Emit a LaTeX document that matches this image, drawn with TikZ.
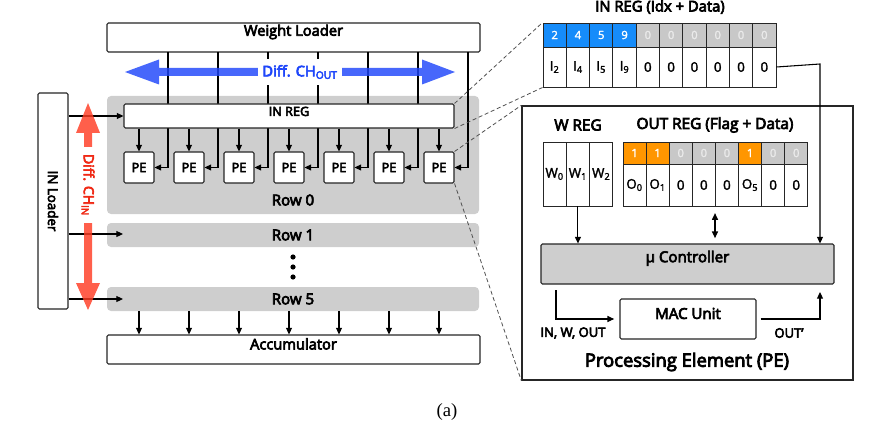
\documentclass[tikz,border=0pt]{standalone}
\usepackage{fontspec}
\setmainfont{Open Sans}[RawFeature={embolden=4.5}]
\newfontfamily\cellfont{Open Sans}[RawFeature={embolden=2}]
\newfontfamily\capfont{Liberation Serif}
\usetikzlibrary{fit,arrows.meta,calc}
\definecolor{rowgray}{RGB}{206,206,206}
\definecolor{cellgray}{RGB}{200,200,200}
\definecolor{zerogray}{RGB}{235,235,235}
\definecolor{idxblue}{RGB}{22,140,250}
\definecolor{flagorange}{RGB}{255,150,0}
\definecolor{outblue}{RGB}{30,70,250}
\definecolor{inred}{RGB}{255,60,35}
\definecolor{redtext}{RGB}{240,40,20}
\definecolor{dashgray}{RGB}{80,80,80}
\newcommand{\sbx}[1]{\textsubscript{#1}}
\newcommand{\fs}[1]{\fontsize{#1}{#1}\selectfont}
\begin{document}
\begin{tikzpicture}[x=0.75pt,y=-0.75pt,
  font=\fs{10},
  box/.style={draw=black!85, line width=0.8pt, fill=white, inner sep=0pt, rounded corners=1pt},
  rowbox/.style={fill=rowgray, draw=none, inner sep=0pt, rounded corners=3pt},
  cell/.style={draw=black!85, line width=0.7pt, inner sep=0pt, font=\cellfont\fs{10}},
  flagcell/.style={draw=black!85, line width=0.7pt, inner sep=0pt, font=\cellfont\fs{8.5}},
  arr/.style={-{Triangle[length=5pt,width=4.5pt]}, line width=0.8pt},
  darr/.style={{Triangle[length=5pt,width=4.5pt]}-{Triangle[length=5pt,width=4.5pt]}, line width=0.8pt},
  dashln/.style={draw=dashgray, line width=0.6pt, dash pattern=on 3pt off 2pt},
  lbl/.style={inner sep=1pt}
]
\useasboundingbox (0,0) rectangle (881,431);

% ---------------- left: array ----------------
\node[rowbox, fit={(107,96) (479,214)}] (row0) {};
\node[rowbox, fit={(107,223) (479,247)}] (row1) {};
\node[rowbox, fit={(107,287) (479,311)}] (row5) {};
\node[lbl, font=\fs{11.3}] (row0t) at (293,200) {Row 0};
\node[lbl, font=\fs{11.3}] at (293,235) (row1t) {Row 1};
\node[lbl, font=\fs{11.3}] at (293,299) (row5t) {Row 5};
\foreach \k/\yy in {a/257,b/267,c/277}
  \fill (293,\yy) circle (2.6) coordinate (dot\k);

\node[box, fit={(107,23) (480,52)}, font=\fs{11}] (wl) {Weight Loader};
\node[box, fit={(107,335) (480,364)}, font=\fs{11}] (acc) {Accumulator};
\node[box, fit={(38,93) (68,309)}] (inl) {};
\node[rotate=-90, font=\fs{10}] (inlt) at (inl.center) {IN Loader};

\foreach \i in {0,...,6} {
  \node[box, minimum width=22.5pt, minimum height=23.25pt, font=\fs{9.5}] (pe\i) at (139+50*\i,167.5) {PE};
  \coordinate (wt\i) at (168+50*\i,52);
  \draw[arr] (wt\i) |- (pe\i.east);
}
\node[box, fit={(124,104) (454,128)}, font=\fs{9.5}] (inreg) {IN REG};
\foreach \i in {0,...,6} {
  \draw[arr] (inreg.south -| pe\i.north) -- (pe\i.north);
  \coordinate (r5\i) at (139+50*\i,311);
  \draw[arr] (r5\i) -- (acc.north -| r5\i);
}

% loader arrows
\draw[arr] (inl.east |- inreg.west) -- (inreg.west);
\coordinate (r1in) at (123,234);
\coordinate (r5in) at (123,299);
\draw[arr] (inl.east |- r1in) -- (r1in);
\draw[arr] (inl.east |- r5in) -- (r5in);

% blue double arrow
\fill[outblue, opacity=0.82] (125,72) -- (159,59.5) -- (159,68) -- (422,68) -- (422,59.5) -- (455,72)
  -- (422,84.5) -- (422,76) -- (159,76) -- (159,84.5) -- cycle;
\node[fill=white, text=outblue, inner xsep=3.5pt, minimum height=19.5pt, font=\fs{11}] (chout) at (300,72) {Diff. CH\textsubscript{OUT}};

% red double arrow
\fill[inred, opacity=0.82] (88,103) -- (100,133) -- (92,133) -- (92,283) -- (100,283) -- (88,310)
  -- (76,283) -- (84,283) -- (84,133) -- (76,133) -- cycle;
\node[fill=white, text=redtext, rotate=-90, inner xsep=5pt, inner ysep=1pt, font=\fs{10.5}] (chin) at (88,185) {Diff. CH\textsubscript{IN}};

% ---------------- right: PE detail ----------------
\node[lbl, font=\fs{11.1}] (inregt) at (660,7) {IN REG (Idx + Data)};
\foreach \k/\v in {0/2,1/4,2/5,3/9} {
  \node[flagcell, fill=idxblue, text=white, minimum width=17.475pt, minimum height=18pt] (idx\k) at (543+23.3*\k+11.65,35) {\v};
}
\foreach \k in {4,...,9} {
  \node[flagcell, fill=cellgray, text=zerogray, minimum width=17.475pt, minimum height=18pt] (idx\k) at (543+23.3*\k+11.65,35) {0};
}
\foreach \k/\v in {0/I\sbx{2},1/I\sbx{4},2/I\sbx{5},3/I\sbx{9},4/0,5/0,6/0,7/0,8/0,9/0} {
  \node[cell, fill=white, minimum width=17.475pt, minimum height=30pt] (dat\k) at (543+23.3*\k+11.65,67) {\v};
}

\node[box, rounded corners=0pt, line width=1pt, fit={(522,106) (853,380)}] (pebox) {};
\node[lbl, font=\fs{11.5}] (wregt) at (578,125) {W REG};
\node[lbl, font=\fs{11.5}] (oregt) at (715,125) {OUT REG (Flag + Data)};
\foreach \k/\v in {0/W\sbx{0},1/W\sbx{1},2/W\sbx{2}} {
  \node[cell, fill=white, minimum width=17.475pt, minimum height=48pt] (w\k) at (543+23.3*\k+11.65,174) {\v};
}
\foreach \k/\v in {0/1,1/1,2/0,3/0,4/0,5/1,6/0,7/0} {
  \ifnum\v=1
    \node[flagcell, fill=flagorange, text=white, minimum width=17.33pt, minimum height=16.5pt] (fl\k) at (623+23.1*\k+11.55,153) {\v};
  \else
    \node[flagcell, fill=cellgray, text=zerogray, minimum width=17.33pt, minimum height=16.5pt] (fl\k) at (623+23.1*\k+11.55,153) {\v};
  \fi
}
\foreach \k/\v in {0/O\sbx{0},1/O\sbx{1},2/0,3/0,4/0,5/O\sbx{5},6/0,7/0} {
  \node[cell, fill=white, minimum width=17.33pt, minimum height=31.5pt] (od\k) at (623+23.1*\k+11.55,185) {\v};
}

\node[box, fill=rowgray, fit={(541,244) (834,284)}, font=\fs{11.3}] (ctrl) {µ Controller};
\node[box, fit={(620,299) (756,339)}, font=\fs{11.3}] (mac) {MAC Unit};

\draw[arr] (w1.south) -- (w1.south |- ctrl.north);
\draw[darr, shorten <=5pt, shorten >=4pt] (od3.south -| 715,0) -- (ctrl.north -| 715,0);
\draw[arr] (dat9.east) -- (820,64) -- (ctrl.north -| 820,0);
\coordinate (cbl) at (556,290);
\draw[arr] (cbl) |- ([xshift=-4pt]mac.west);
\coordinate (cbr) at (820,292);
\draw[arr] ([xshift=3pt]mac.east) -| (cbr);
\node[lbl, font=\fs{9.8}] (inwout) at (573,333) {IN, W, OUT};
\node[lbl, font=\fs{9.8}] (outp) at (789,333) {OUT'};
\node[lbl, font=\fs{13.8}] (pet) at (687,362) {Processing Element (PE)};

% dashed zoom lines
\draw[dashln] (inreg.north east) -- (idx0.north west);
\draw[dashln] (inreg.south east) -- (dat0.south west);
\draw[dashln] (pe6.north east) -- (pebox.north west);
\draw[dashln] (pe6.south east) -- (pebox.south west);

\node[font=\capfont\fs{14}] (cap) at (447,412) {(a)};
\end{tikzpicture}
\end{document}
